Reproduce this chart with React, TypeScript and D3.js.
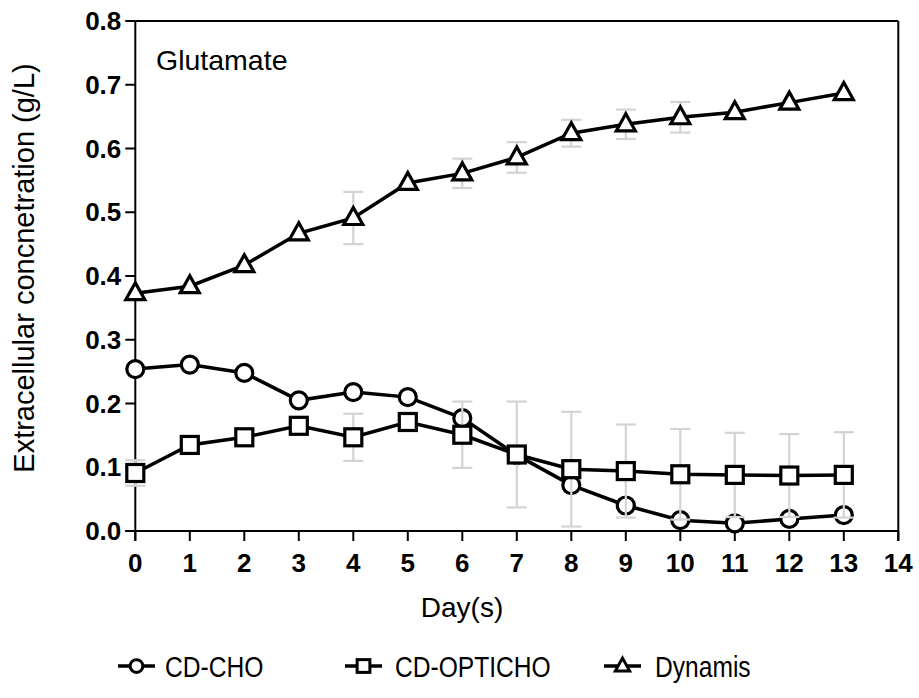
import React from "react";
import * as d3 from "d3";

const days = [0, 1, 2, 3, 4, 5, 6, 7, 8, 9, 10, 11, 12, 13];
const cdCho = [0.254, 0.261, 0.248, 0.205, 0.218, 0.21, 0.177, 0.119, 0.072, 0.04, 0.017, 0.012, 0.019, 0.025];
const cdOpticho = [0.091, 0.135, 0.147, 0.165, 0.147, 0.171, 0.151, 0.12, 0.097, 0.094, 0.089, 0.088, 0.087, 0.088];
const cdOptichoErr = [0.02, 0, 0, 0, 0.037, 0, 0.052, 0.083, 0.09, 0.073, 0.071, 0.066, 0.065, 0.067];
const dynamis = [0.373, 0.384, 0.417, 0.467, 0.491, 0.546, 0.561, 0.586, 0.624, 0.638, 0.649, 0.657, 0.672, 0.687];
const dynamisErr = [0, 0, 0, 0, 0.041, 0, 0.023, 0.024, 0.021, 0.023, 0.024, 0, 0, 0];
const xTicks = [0, 1, 2, 3, 4, 5, 6, 7, 8, 9, 10, 11, 12, 13, 14];
const yTicks = [0, 0.1, 0.2, 0.3, 0.4, 0.5, 0.6, 0.7, 0.8];
const seriesNames = ["CD-CHO", "CD-OPTICHO", "Dynamis"];

const W = 919;
const H = 698;
const FONT = "'Liberation Sans', Arial, sans-serif";

const x = d3.scaleLinear().domain([0, 14]).range([135.3, 898.3]);
const y = d3.scaleLinear().domain([0, 0.8]).range([531, 21]);

const lineGen = d3
  .line<number>()
  .x((_, i) => x(days[i]))
  .y((d) => y(d));

function Marker({ type, cx, cy, s = 1, sw = 3.2 }: { type: string; cx: number; cy: number; s?: number; sw?: number }) {
  if (type === "circle") {
    return <circle cx={cx} cy={cy} r={8.5 * s} fill="#fff" stroke="#000" strokeWidth={sw} />;
  }
  if (type === "square") {
    const h = 8.5 * s;
    return <rect x={cx - h} y={cy - h} width={2 * h} height={2 * h} fill="#fff" stroke="#000" strokeWidth={sw} />;
  }
  const p = `M${cx},${cy - 10.5 * s} L${cx + 9.5 * s},${cy + 6.5 * s} L${cx - 9.5 * s},${cy + 6.5 * s} Z`;
  return <path d={p} fill="#fff" stroke="#000" strokeWidth={sw} strokeLinejoin="miter" />;
}

function ErrorBars({ vals, errs }: { vals: number[]; errs: number[] }) {
  return (
    <g stroke="#d3d3d3" strokeWidth={2.2}>
      {vals.map((v, i) =>
        errs[i] > 0 ? (
          <g key={i}>
            <line x1={x(days[i])} x2={x(days[i])} y1={y(v + errs[i])} y2={y(v - errs[i])} />
            <line x1={x(days[i]) - 10} x2={x(days[i]) + 10} y1={y(v + errs[i])} y2={y(v + errs[i])} />
            <line x1={x(days[i]) - 10} x2={x(days[i]) + 10} y1={y(v - errs[i])} y2={y(v - errs[i])} />
          </g>
        ) : null
      )}
    </g>
  );
}

function Series({ vals, type }: { vals: number[]; type: string }) {
  return (
    <g>
      <path d={lineGen(vals) || ""} fill="none" stroke="#000" strokeWidth={3.5} />
      {vals.map((v, i) => (
        <Marker key={i} type={type} cx={x(days[i])} cy={y(v)} />
      ))}
    </g>
  );
}

export default function App() {
  const x0 = x.range()[0];
  const x1 = x.range()[1];
  const y0 = y.range()[0];
  const y1 = y.range()[1];
  const legend = [
    { name: seriesNames[0], type: "circle", lx: 118, tx: 165 },
    { name: seriesNames[1], type: "square", lx: 345, tx: 395 },
    { name: seriesNames[2], type: "triangle", lx: 604, tx: 655 },
  ];
  const legY = 666;
  return (
    <svg width={W} height={H} style={{ position: "absolute", left: 0, top: 0, background: "#fff" }} fontFamily={FONT}>
      <rect width={W} height={H} fill="#fff" />
      <g stroke="#000" strokeWidth={2}>
        <line x1={x0} x2={x1} y1={y1} y2={y1} />
        <line x1={x1} x2={x1} y1={y1} y2={y0 + 10} />
        <line x1={x0} x2={x0} y1={y1} y2={y0 + 10} />
        <line x1={x0 - 10} x2={x1} y1={y0} y2={y0} />
        {yTicks.map((t) => (
          <line key={t} x1={x0 - 10} x2={x0} y1={y(t)} y2={y(t)} />
        ))}
        {xTicks.map((t) => (
          <line key={t} x1={x(t)} x2={x(t)} y1={y0} y2={y0 + 10} />
        ))}
      </g>
      {yTicks.map((t) => (
        <text key={t} x={x0 - 14} y={y(t) + 9} textAnchor="end" fontSize={26} fontWeight="bold">
          {t.toFixed(1)}
        </text>
      ))}
      {xTicks.map((t) => (
        <text key={t} x={x(t)} y={572} textAnchor="middle" fontSize={26} fontWeight="bold">
          {t}
        </text>
      ))}
      <text x={462} y={617} textAnchor="middle" fontSize={28}>
        Day(s)
      </text>
      <text transform={`translate(34,${268}) rotate(-90)`} textAnchor="middle" fontSize={29}>
        Extracellular concnetration (g/L)
      </text>
      <text x={156} y={70} fontSize={28.5}>
        Glutamate
      </text>

      <Series vals={cdCho} type="circle" />
      <ErrorBars vals={cdOpticho} errs={cdOptichoErr} />
      <Series vals={cdOpticho} type="square" />
      <ErrorBars vals={dynamis} errs={dynamisErr} />
      <Series vals={dynamis} type="triangle" />

      {legend.map((l) => (
        <g key={l.name}>
          <line x1={l.lx} x2={l.lx + 37} y1={legY} y2={legY} stroke="#000" strokeWidth={3.5} />
          <Marker type={l.type} cx={l.lx + 18.5} cy={legY} s={0.75} sw={3} />
          <text transform={`translate(${l.tx},${legY + 11}) scale(0.82,1)`} fontSize={30}>
            {l.name}
          </text>
        </g>
      ))}
    </svg>
  );
}
